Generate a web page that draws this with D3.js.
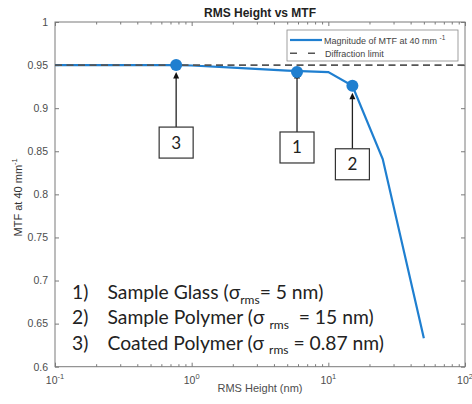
<!DOCTYPE html>
<html><head><meta charset="utf-8">
<script src="https://cdn.jsdelivr.net/npm/d3@7"></script>
<style>body{margin:0;background:#fff}svg{display:block}</style>
</head><body>
<svg id="c" width="472" height="404"></svg>
<script>
// ---- data ----
const lineX = [0.1, 0.2, 0.5, 0.77, 1, 2, 5, 10, 15, 25, 50];
const lineY = [0.95, 0.95, 0.95, 0.95, 0.9495, 0.947, 0.9435, 0.9418, 0.926, 0.841, 0.633];
const markerX = [5.9, 15, 0.77];
const markerY = [0.942, 0.926, 0.95];
const markerLabels = ["1", "2", "3"];
const diffractionLimit = 0.95;
const yTicks = [0.6, 0.65, 0.7, 0.75, 0.8, 0.85, 0.9, 0.95, 1];
const yTickLabels = ["0.6", "0.65", "0.7", "0.75", "0.8", "0.85", "0.9", "0.95", "1"];
const xMajor = [0.1, 1, 10, 100];
const xMajorExp = ["-1", "0", "1", "2"];
const notes = [
  {n: "1)", name: "Sample Glass (σ", sub: "rms", rest: "= 5 nm)"},
  {n: "2)", name: "Sample Polymer (σ ", sub: "rms", rest: "  = 15 nm)"},
  {n: "3)", name: "Coated Polymer (σ ", sub: "rms", rest: " = 0.87 nm)"}
];

const svg = d3.select("#c");
const L = 55, R = 465, T = 22, B = 366.7;
const x = d3.scaleLog().domain([0.1, 100]).range([L, R]);
const y = d3.scaleLinear().domain([0.6, 1]).range([B, T]);
const axisCol = "#7a7a7a", labCol = "#4d4d4d", blue = "#1f7fd0";
const font = "'Liberation Sans', Arial, sans-serif";

// minor ticks
const xMinor = [];
[0.1, 1, 10].forEach(d => { for (let k = 2; k <= 9; k++) xMinor.push(d * k); });

// box
svg.append("rect").attr("x", L).attr("y", T).attr("width", R - L).attr("height", B - T)
  .attr("fill", "none").attr("stroke", axisCol).attr("stroke-width", 1);

// axes via d3
const gB = svg.append("g").attr("transform", `translate(0,${B})`)
  .call(d3.axisBottom(x).tickValues(xMajor).tickSize(-4).tickFormat(""));
const gBm = svg.append("g").attr("transform", `translate(0,${B})`)
  .call(d3.axisBottom(x).tickValues(xMinor).tickSize(-2.5).tickFormat(""));
const gT = svg.append("g").attr("transform", `translate(0,${T})`)
  .call(d3.axisTop(x).tickValues(xMajor).tickSize(-4).tickFormat(""));
const gTm = svg.append("g").attr("transform", `translate(0,${T})`)
  .call(d3.axisTop(x).tickValues(xMinor).tickSize(-2.5).tickFormat(""));
const gL = svg.append("g").attr("transform", `translate(${L},0)`)
  .call(d3.axisLeft(y).tickValues(yTicks).tickSize(-4).tickPadding(7)
    .tickFormat((d, i) => yTickLabels[i]));
const gR = svg.append("g").attr("transform", `translate(${R},0)`)
  .call(d3.axisRight(y).tickValues(yTicks).tickSize(-4).tickFormat(""));
[gB, gBm, gT, gTm, gL, gR].forEach(g => {
  g.select(".domain").remove();
  g.selectAll(".tick line").attr("stroke", axisCol);
});
gL.selectAll("text").attr("fill", labCol).style("font-family", font).style("font-size", "10.5px");

// x tick labels with superscripts
const xl = svg.append("g");
xMajor.forEach((d, i) => {
  const t = xl.append("text").attr("x", x(d)).attr("y", B + 17).attr("text-anchor", "middle")
    .attr("fill", labCol).style("font-family", font).style("font-size", "10.5px");
  t.append("tspan").text("10");
  t.append("tspan").attr("dy", -5).style("font-size", "7.5px").text(xMajorExp[i]);
});

// labels
svg.append("text").attr("x", (L + R) / 2).attr("y", 392).attr("text-anchor", "middle")
  .attr("fill", labCol).style("font-family", font).style("font-size", "11px").text("RMS Height (nm)");
const yl = svg.append("text").attr("transform", `translate(22,${(T + B) / 2 + 3}) rotate(-90)`)
  .attr("text-anchor", "middle").attr("fill", "#333").style("font-family", font).style("font-size", "11px");
yl.append("tspan").text("MTF at 40 mm");
yl.append("tspan").attr("dy", -5).style("font-size", "7.5px").text("-1");
svg.append("text").attr("x", (L + R) / 2).attr("y", 16.5).attr("text-anchor", "middle")
  .attr("fill", "#222").style("font-family", font).style("font-size", "12px").style("font-weight", "bold")
  .text("RMS Height vs MTF");

// data line
const pts = lineX.map((d, i) => [d, lineY[i]]);
svg.append("path").datum(pts)
  .attr("d", d3.line().x(d => x(d[0])).y(d => y(d[1])))
  .attr("fill", "none").attr("stroke", blue).attr("stroke-width", 2.2);

// diffraction limit
svg.append("line").attr("x1", L).attr("x2", R).attr("y1", y(diffractionLimit)).attr("y2", y(diffractionLimit))
  .attr("stroke", "#555").attr("stroke-width", 1.6).attr("stroke-dasharray", "7,4.5");

// annotation boxes and arrows
const boxOffset = [{dy: 60, w: 34, h: 31}, {dy: 63, w: 34, h: 31}, {dy: 62, w: 34, h: 31}];
const ann = svg.append("g");
markerX.forEach((d, i) => {
  const cx = x(d), cy = y(markerY[i]);
  const by = cy + boxOffset[i].dy;
  const tipY = i === 0 ? cy : cy + 7;
  ann.append("line").attr("x1", cx).attr("x2", cx).attr("y1", by).attr("y2", tipY + 5)
    .attr("stroke", "#222").attr("stroke-width", 1.3);
  ann.append("path").attr("d", `M${cx},${tipY} L${cx - 3},${tipY + 6.5} L${cx + 3},${tipY + 6.5} Z`)
    .attr("fill", "#111");
  ann.append("rect").attr("x", cx - boxOffset[i].w / 2).attr("y", by)
    .attr("width", boxOffset[i].w).attr("height", boxOffset[i].h)
    .attr("fill", "#fff").attr("stroke", "#333").attr("stroke-width", 1.2);
  ann.append("text").attr("x", cx).attr("y", by + boxOffset[i].h / 2 + 6).attr("text-anchor", "middle")
    .attr("fill", "#222").style("font-family", "Lato, 'Open Sans', sans-serif").style("font-size", "17px")
    .text(markerLabels[i]);
});

// markers
svg.selectAll("circle.m").data(markerX).enter().append("circle")
  .attr("cx", d => x(d)).attr("cy", (d, i) => y(markerY[i])).attr("r", 6).attr("fill", blue);

// legend
const lg = svg.append("g");
lg.append("rect").attr("x", 287).attr("y", 30).attr("width", 171).attr("height", 31)
  .attr("fill", "#fff").attr("stroke", "#888").attr("stroke-width", 0.8);
lg.append("line").attr("x1", 290).attr("x2", 322).attr("y1", 40).attr("y2", 40)
  .attr("stroke", blue).attr("stroke-width", 2.2);
lg.append("line").attr("x1", 290).attr("x2", 322).attr("y1", 53.3).attr("y2", 53.3)
  .attr("stroke", "#555").attr("stroke-width", 1.6).attr("stroke-dasharray", "7,11");
const lt1 = lg.append("text").attr("x", 324).attr("y", 43.5).attr("fill", "#444")
  .style("font-family", font).style("font-size", "9px");
lt1.append("tspan").text("Magnitude of MTF at 40 mm ");
lt1.append("tspan").attr("dy", -4).style("font-size", "6.5px").text("-1");
lg.append("text").attr("x", 325).attr("y", 56.5).attr("fill", "#444")
  .style("font-family", font).style("font-size", "9px").text("Diffraction limit");

// notes
const nf = "Lato, 'Open Sans', sans-serif";
notes.forEach((d, i) => {
  const yy = 299 + i * 25.3;
  svg.append("text").attr("x", 72).attr("y", yy).attr("fill", "#222")
    .style("font-family", nf).style("font-size", "19.3px").text(d.n);
  const t = svg.append("text").attr("x", 107.5).attr("y", yy).attr("fill", "#222")
    .style("font-family", nf).style("font-size", "19.3px").attr("xml:space", "preserve");
  t.append("tspan").text(d.name);
  t.append("tspan").attr("dy", 4.5).style("font-size", "12px").text(d.sub);
  t.append("tspan").attr("dy", -4.5).text(d.rest);
});
</script>
</body></html>
